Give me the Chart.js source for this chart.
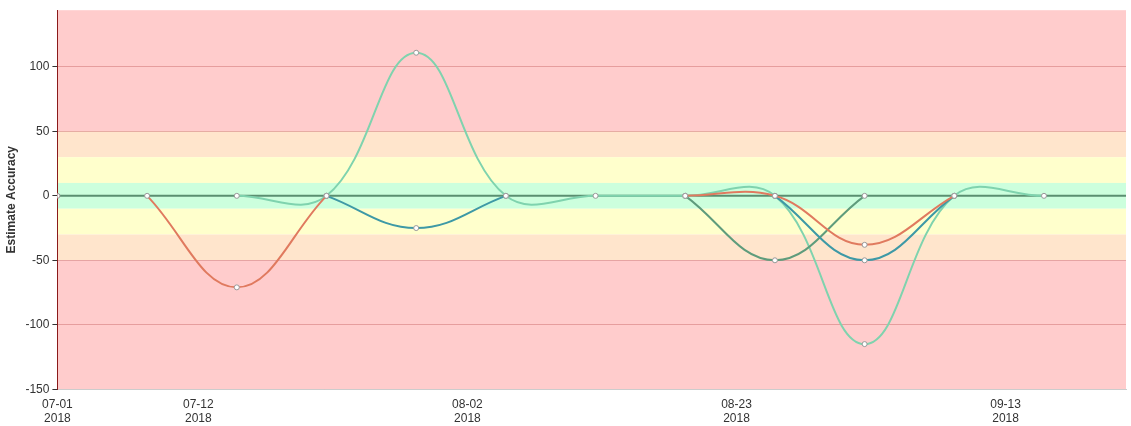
<!DOCTYPE html><html><head><script src="https://cdn.jsdelivr.net/npm/chart.js@4"></script>
<style>body{margin:0}#w{width:1131px;height:426px}</style></head><body><div id="w"><canvas id="c"></canvas></div>
<script>
const days=[0,7,14,21,28,35,42,49,56,63,70,77];
const tickDays=[0,11,32,53,74];
const tickLabels=[["07-01","2018"],["07-12","2018"],["08-02","2018"],["08-23","2018"],["09-13","2018"]];
const orange=[null,0,-71,0,null,null,null,0,0,-38,0,null];
const teal=[null,null,null,0,-25,0,null,null,0,-50,0,null];
const darkGreen=[null,null,null,null,null,null,null,0,-50,0,null,null];
const lightGreen=[null,null,0,0,111,0,0,0,0,-115,0,0];
const base=[0,null,null,null,null,null,null,null,null,null,null,null];
const bands=[[50,1000,'#ffcccc'],[30,50,'#ffe5cc'],[10,30,'#ffffcc'],[-10,10,'#ccffdd'],[-30,-10,'#ffffcc'],[-50,-30,'#ffe5cc'],[-1000,-50,'#ffcccc']];
const mk=(a,c)=>({data:a.map((v,i)=>({x:days[i],y:v})),borderColor:c,borderWidth:2,tension:0.4,spanGaps:false,pointRadius:2.5,pointBackgroundColor:'#fff',pointBorderColor:'#999',pointBorderWidth:1});
const bg={id:'bg',beforeDraw(ch){const {ctx,chartArea:a,scales:{y}}=ch;ctx.save();
for(const [lo,hi,c] of bands){const t=Math.max(a.top,y.getPixelForValue(hi)),b=Math.min(a.bottom,y.getPixelForValue(lo));if(b>t){ctx.fillStyle=c;ctx.fillRect(a.left,t,a.right-a.left,b-t);}}ctx.restore();},
afterDatasetsDraw(){},beforeDatasetsDraw(ch){const {ctx,chartArea:a,scales:{y}}=ch;const p=y.getPixelForValue(0);ctx.save();ctx.strokeStyle='#5a8f70';ctx.lineWidth=2;ctx.beginPath();ctx.moveTo(a.left,p);ctx.lineTo(a.right,p);ctx.stroke();ctx.restore();}};
new Chart(document.getElementById('c'),{type:'line',data:{datasets:[mk(base,'#5a9a78'),mk(orange,'#e07a5f'),mk(teal,'#3e99a6'),mk(darkGreen,'#5f9c7c'),mk(lightGreen,'#7fd3ae')]},
options:{responsive:true,maintainAspectRatio:false,animation:false,layout:{padding:{right:0}},plugins:{legend:{display:false},tooltip:{enabled:false}},
scales:{x:{type:'linear',min:0,max:83.4,afterBuildTicks(s){s.ticks=tickDays.map(v=>({value:v}));},ticks:{autoSkip:false,maxRotation:0,color:'#333',font:{size:12,family:'Liberation Sans'},padding:0,callback(v){const i=tickDays.indexOf(v);return i>=0?tickLabels[i]:'';}},grid:{display:false},border:{color:'#ccc'}},
y:{min:-150,max:144,afterBuildTicks(s){s.ticks=[-150,-100,-50,0,50,100].map(v=>({value:v}));},ticks:{color:'#333',font:{size:12,family:'Liberation Sans'}},grid:{color(c){return c.tick.value===0?'rgba(0,0,0,0)':'rgba(200,100,100,0.45)';},drawTicks:true,tickLength:5,tickColor:'#333'},border:{color:'#8b1a1a'},title:{display:true,text:'Estimate Accuracy',color:'#333',font:{size:12,weight:'bold',family:'Liberation Sans'}}}}},plugins:[bg]});
</script></body></html>
